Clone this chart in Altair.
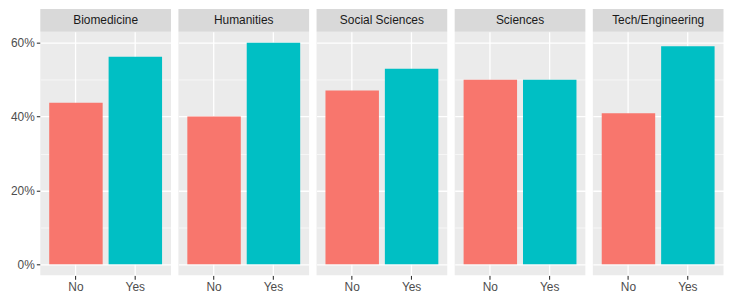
import altair as alt
import pandas as pd

fields = ["Biomedicine", "Humanities", "Social Sciences", "Sciences", "Tech/Engineering"]
answers = ["No", "Yes"]
no_share = [0.4375, 0.40, 0.4706, 0.50, 0.4091]
yes_share = [0.5625, 0.60, 0.5294, 0.50, 0.5909]

rows = []
for f, n, y in zip(fields, no_share, yes_share):
    rows.append({"Field": f, "Answer": "No", "share": n})
    rows.append({"Field": f, "Answer": "Yes", "share": y})
df = pd.DataFrame(rows)

W = 131.5
H = 245
STRIP = 23
FONT = "Liberation Sans"
major_test = "round(datum.value*100) % 20 === 0"

bars = alt.Chart().mark_bar().encode(
    x=alt.X("Answer:N", sort=answers, title=None,
            scale=alt.Scale(paddingInner=0.1, paddingOuter=0.15),
            axis=alt.Axis(bandPosition=0.5, grid=True, gridColor="white", gridWidth=1.3,
                          domain=False, tickColor="#333333", tickSize=4, tickWidth=1.1,
                          labelColor="#4D4D4D", labelFontSize=12, labelFont=FONT,
                          labelPadding=2, labelAngle=0)),
    y=alt.Y("share:Q", title=None,
            scale=alt.Scale(domain=[-0.03, 0.63], nice=False, zero=False),
            axis=alt.Axis(values=[0, 0.1, 0.2, 0.3, 0.4, 0.5, 0.6],
                          labelExpr=f"{major_test} ? format(datum.value, '.0%') : ''",
                          grid=True, gridColor="white",
                          gridWidth={"condition": {"test": major_test, "value": 1.3}, "value": 0.6},
                          tickOpacity={"condition": {"test": major_test, "value": 1}, "value": 0},
                          domain=False, tickColor="#333333", tickSize=4, tickWidth=1.1,
                          labelColor="#4D4D4D", labelFontSize=12, labelFont=FONT,
                          labelPadding=2)),
    y2=alt.datum(0),
    color=alt.Color("Answer:N", legend=None,
                    scale=alt.Scale(domain=answers, range=["#F8766D", "#00BFC4"])),
)

strip_rect = alt.Chart().mark_rect(color="#D9D9D9", clip=False).encode(
    x=alt.value(0), x2=alt.value(W), y=alt.value(-STRIP), y2=alt.value(0)
).transform_filter("datum.Answer === 'No'")

strip_text = alt.Chart().mark_text(color="#1A1A1A", fontSize=12, font=FONT,
                                   baseline="middle", align="center", clip=False).encode(
    x=alt.value(W / 2), y=alt.value(-STRIP / 2), text="Field:N"
).transform_filter("datum.Answer === 'No'")

chart = alt.layer(bars, strip_rect, strip_text, data=df).properties(
    width=W, height=H
).facet(
    column=alt.Column("Field:N", sort=fields, title=None, header=alt.Header(labels=False))
).properties(
    spacing=7, padding={"left": 1.5, "top": 0, "right": 0, "bottom": 0}
).configure(
    background="white",
    view={"fill": "#EBEBEB", "strokeWidth": 0},
    style={"cell": {"fill": "#EBEBEB", "strokeWidth": 0}},
)

chart.save("out.html", embed_options={"renderer": "svg", "actions": False})
